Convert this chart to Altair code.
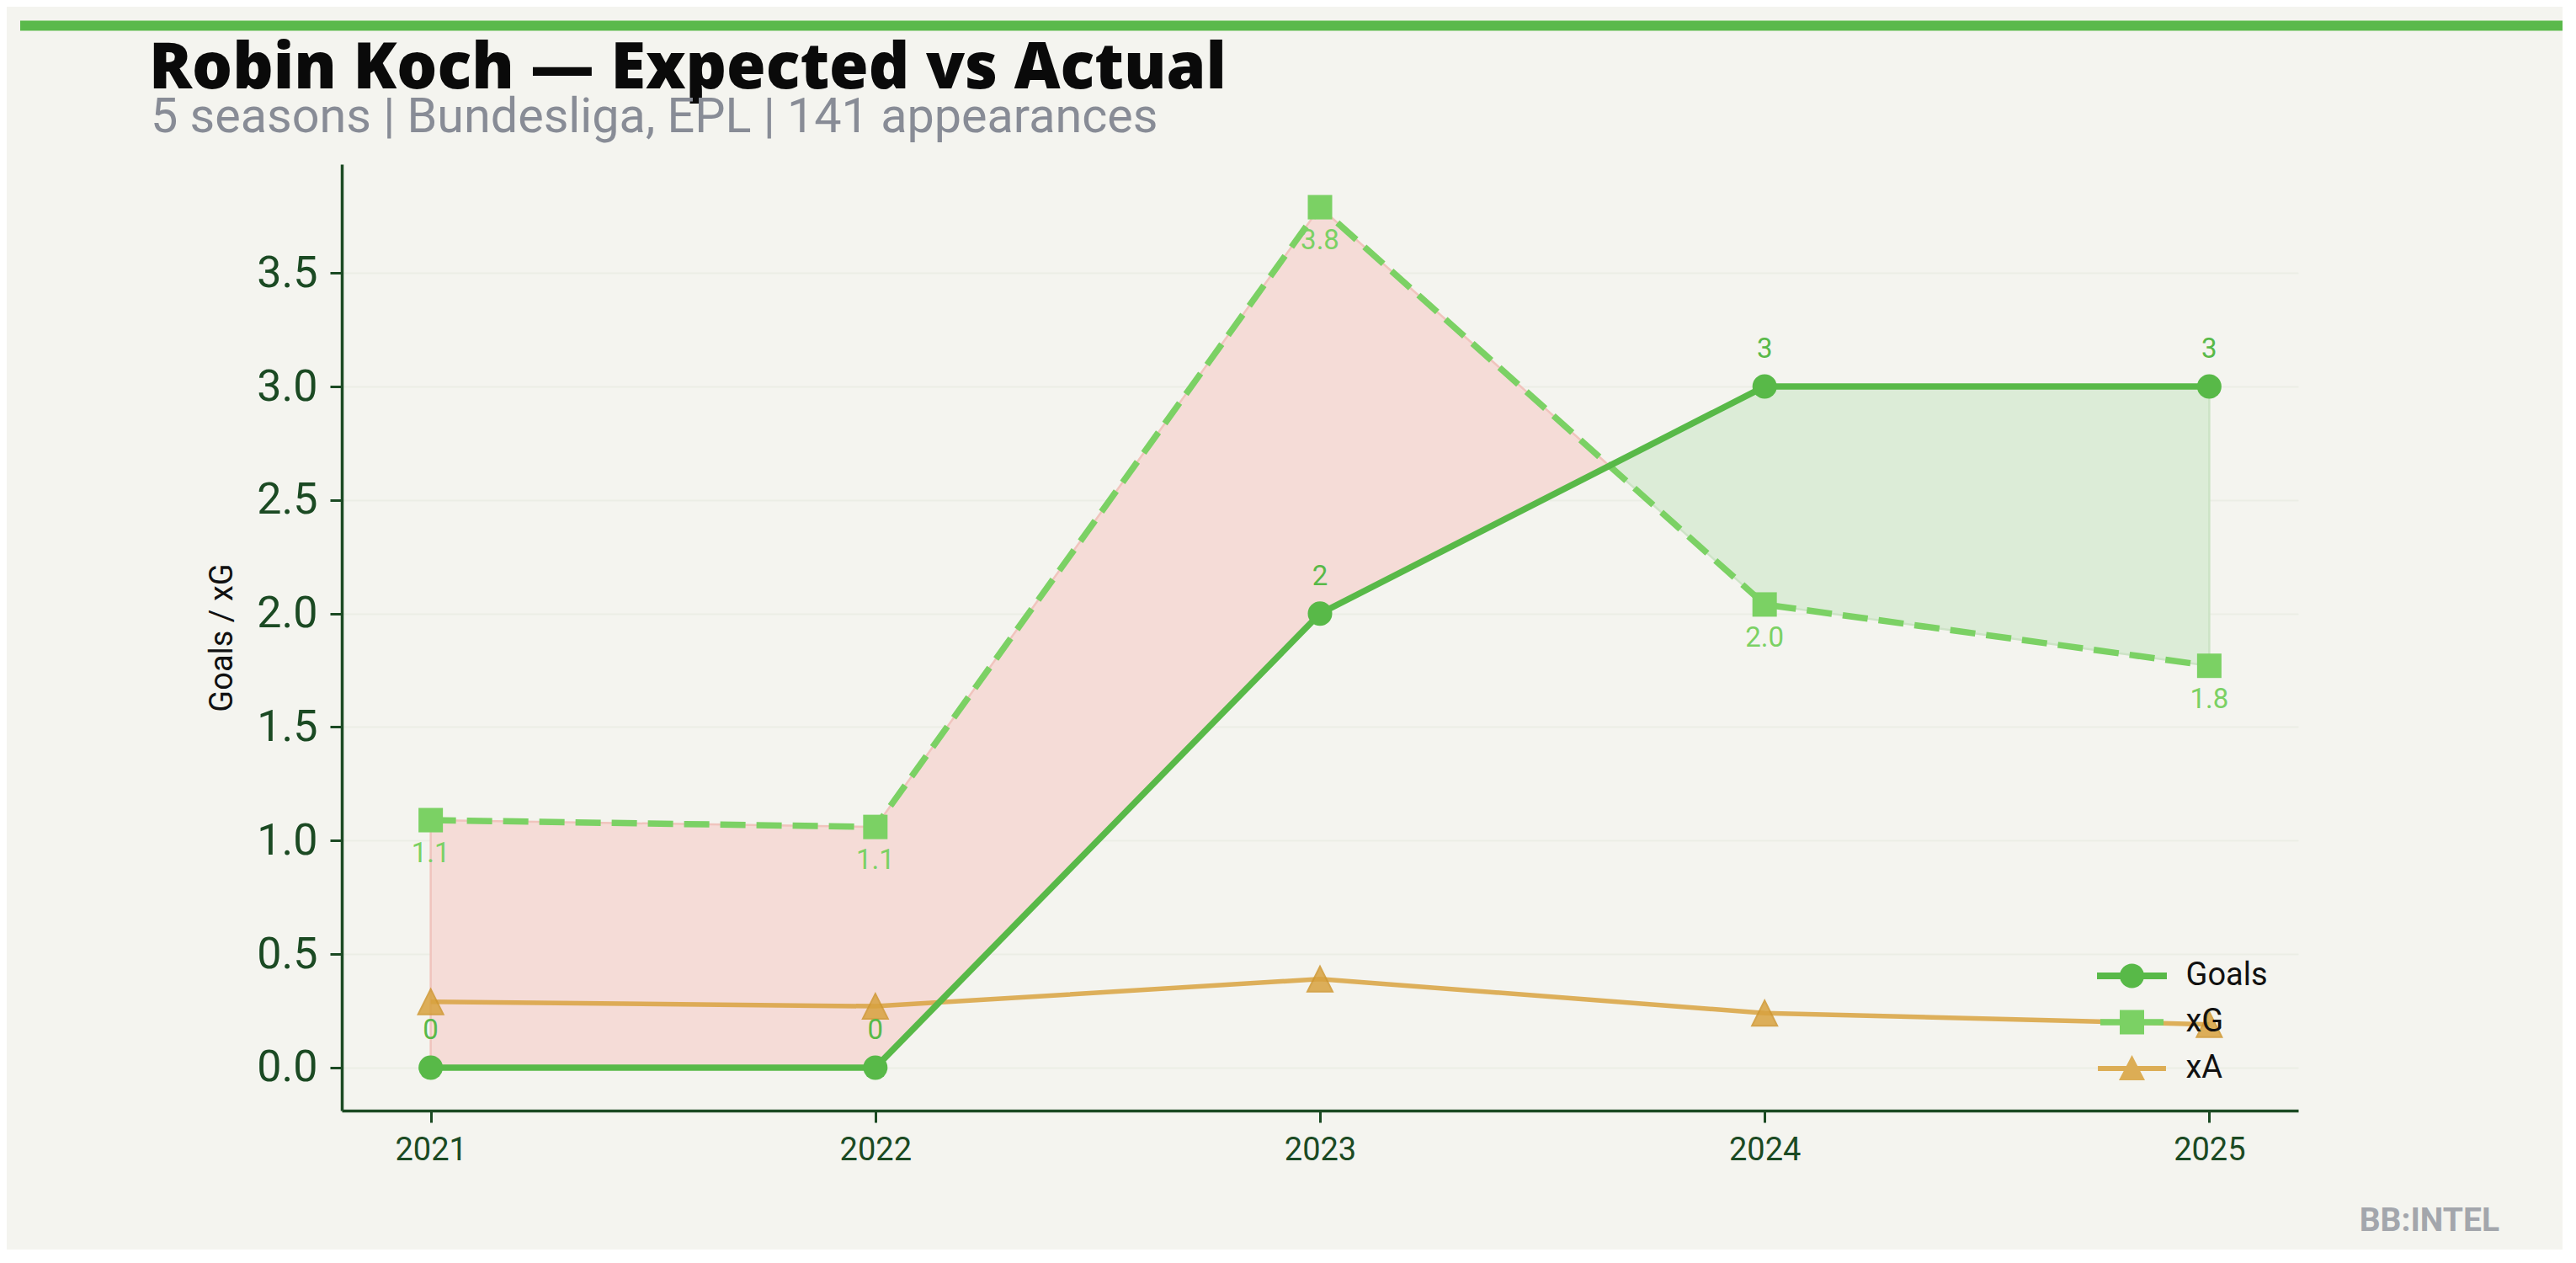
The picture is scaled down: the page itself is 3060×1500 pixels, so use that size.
import altair as alt
import pandas as pd

# ---------------- data ----------------
years = [2021, 2022, 2023, 2024, 2025]
goals = [0, 0, 2, 3, 3]
xg = [1.09, 1.06, 3.79, 2.04, 1.77]
xa = [0.29, 0.27, 0.39, 0.24, 0.19]
series_names = ["Goals", "xG", "xA"]
y_ticks = [0.0, 0.5, 1.0, 1.5, 2.0, 2.5, 3.0, 3.5]

TITLE = "Robin Koch — Expected vs Actual"
SUBTITLE = "5 seasons | Bundesliga, EPL | 141 appearances"
Y_TITLE = "Goals / xG"
WATERMARK = "BB:INTEL"

# ---------------- styles ----------------
BG = "#f4f4ef"
C_GOALS = "#58b948"
C_XG = "#7bd164"
C_XA = "#d8a23f"
AXIS_C = "#1b4a23"

# ---------------- tables ----------------
long = pd.DataFrame({
    "year": years * 3,
    "series": ["Goals"] * 5 + ["xG"] * 5 + ["xA"] * 5,
    "value": goals + xg + xa,
})
lab_goals = pd.DataFrame({"year": years, "value": goals, "label": [str(int(v)) for v in goals]})
lab_xg = pd.DataFrame({"year": years, "value": xg, "label": [f"{v:.1f}" for v in xg]})

# fill between goals and xG, split where the two cross
pts = []
for i in range(len(years)):
    pts.append((years[i], goals[i], xg[i]))
    if i < len(years) - 1:
        d0 = xg[i] - goals[i]
        d1 = xg[i + 1] - goals[i + 1]
        if d0 * d1 < 0:
            t = d0 / (d0 - d1)
            yr = years[i] + t * (years[i + 1] - years[i])
            gv = goals[i] + t * (goals[i + 1] - goals[i])
            pts.append((yr, gv, gv))
rows = []
region = 0
prev_sign = None
for (yr, g, x) in pts:
    d = x - g
    sign = 0 if abs(d) < 1e-12 else (1 if d > 0 else -1)
    if sign == 0:
        rows.append({"year": yr, "g": g, "x": x, "region": region, "kind": "over" if prev_sign != -1 else "under"})
        region += 1
        prev_sign = None
        rows.append({"year": yr, "g": g, "x": x, "region": region, "kind": "pending"})
        continue
    kind = "over" if sign > 0 else "under"
    rows.append({"year": yr, "g": g, "x": x, "region": region, "kind": kind})
    prev_sign = sign
fill = pd.DataFrame(rows)
for r in fill["region"].unique():
    kinds = [k for k in fill.loc[fill.region == r, "kind"] if k != "pending"]
    if kinds:
        fill.loc[(fill.region == r) & (fill.kind == "pending"), "kind"] = kinds[0]

all_vals = goals + xg + xa
ymin, ymax = min(all_vals), max(all_vals)
ypad = 0.05 * (ymax - ymin)
xpad = 0.05 * (max(years) - min(years))

xscale = alt.Scale(domain=[min(years) - xpad, max(years) + xpad], nice=False, zero=False)
yscale = alt.Scale(domain=[ymin - ypad, ymax + ypad], nice=False, zero=False)

xaxis = alt.Axis(values=years, format="d", title=None, grid=False,
                 labelFont="Roboto", labelFontSize=38, labelColor=AXIS_C, labelPadding=14,
                 tickSize=14, tickWidth=3, tickColor=AXIS_C,
                 domainColor=AXIS_C, domainWidth=3.5)
yaxis = alt.Axis(values=y_ticks, format=".1f", title=Y_TITLE,
                 titleFont="Roboto", titleFontSize=38, titleFontWeight="normal",
                 titleColor="#111111", titlePadding=21,
                 labelFont="Roboto", labelFontSize=52, labelColor=AXIS_C, labelPadding=15,
                 tickSize=14, tickWidth=3, tickColor=AXIS_C,
                 domainColor=AXIS_C, domainWidth=3.5,
                 grid=True, gridColor="#ebede5", gridWidth=2)

X = alt.X("year:Q", scale=xscale, axis=xaxis)


def Y(field):
    return alt.Y(f"{field}:Q", scale=yscale, axis=yaxis)


base = alt.Chart(long)

area_over = alt.Chart(fill).transform_filter(alt.datum.kind == "over").mark_area(
    fill="#f5dcd7", stroke="#f0c4bd", strokeWidth=2.5, opacity=1
).encode(x=X, y=Y("g"), y2="x:Q", detail="region:N")
area_under = alt.Chart(fill).transform_filter(alt.datum.kind == "under").mark_area(
    fill="#dcecd7", stroke="#cde3c6", strokeWidth=2.5, opacity=1
).encode(x=X, y=Y("g"), y2="x:Q", detail="region:N")

xa_line = base.transform_filter(alt.datum.series == "xA").mark_line(
    color=C_XA, strokeWidth=5.5, opacity=0.85).encode(x=X, y=Y("value"))
tri_path = "M0,-1L1,1L-1,1Z"
xa_pts = base.transform_filter(alt.datum.series == "xA").mark_point(
    shape=tri_path, filled=True, size=900, color=C_XA, opacity=0.85,
    stroke="#cf9730", strokeWidth=2).encode(x=X, y=Y("value"))

xg_line = base.transform_filter(alt.datum.series == "xG").mark_line(
    color=C_XG, strokeWidth=7.5, strokeDash=[30, 13], opacity=1).encode(x=X, y=Y("value"))
xg_pts = base.transform_filter(alt.datum.series == "xG").mark_point(
    shape="square", filled=True, size=841, color=C_XG, opacity=1).encode(x=X, y=Y("value"))

g_line = base.transform_filter(alt.datum.series == "Goals").mark_line(
    color=C_GOALS, strokeWidth=7.5, opacity=1).encode(x=X, y=Y("value"))
g_pts = base.transform_filter(alt.datum.series == "Goals").mark_point(
    shape="circle", filled=True, size=841, color=C_GOALS, opacity=1).encode(x=X, y=Y("value"))

g_lab = alt.Chart(lab_goals).mark_text(
    font="Roboto", fontSize=33, color=C_GOALS, baseline="alphabetic", align="center", dy=-34
).encode(x=X, y=Y("value"), text="label:N")
xg_lab = alt.Chart(lab_xg).mark_text(
    font="Roboto", fontSize=33, color=C_XG, baseline="alphabetic", align="center", dy=50
).encode(x=X, y=Y("value"), text="label:N")

# legend symbols: line + marker
legend_paths = [
    "M-2.86,-0.276H-0.96V0.276H-2.86Z M0.96,-0.276H2.86V0.276H0.96Z M1,0A1,1,0,1,1,-1,0A1,1,0,1,1,1,0Z",
    "M-2.59,-0.26H-1V0.26H-2.59Z M1,-0.26H2.59V0.26H1Z M-1,-1H1V1H-1Z",
    "M-2.79,-0.21H2.79V0.21H-2.79Z M0,-1.1L1.07,0.97L-1.07,0.97Z",
]
legend_colors = [C_GOALS, C_XG, "#dcad55"]
leg = alt.Legend(title=None, orient="none", legendX=2107.5, legendY=945, padding=0,
                 symbolSize=841, symbolOpacity=1, symbolStrokeWidth=0,
                 labelFont="Roboto", labelFontSize=38, labelColor="#111111",
                 labelOffset=45, rowPadding=17)
legend_layer = base.mark_point(filled=True, opacity=0).encode(
    x=X, y=Y("value"),
    color=alt.Color("series:N", scale=alt.Scale(domain=series_names, range=legend_colors), legend=leg),
    shape=alt.Shape("series:N", scale=alt.Scale(domain=series_names, range=legend_paths), legend=leg),
)

one = pd.DataFrame({"t": [TITLE], "s": [SUBTITLE], "w": [WATERMARK]})
bar = alt.Chart(one).mark_rule(color="#5ab94b", strokeWidth=12).encode(
    x=alt.value(-382), x2=alt.value(2700), y=alt.value(-164.5))
title_txt = alt.Chart(one).mark_text(
    align="left", baseline="alphabetic", font="Open Sans", fontSize=75.5, fontWeight=800, color="#0a0a0a"
).encode(x=alt.value(-229), y=alt.value(-90), text="t:N")
sub_txt = alt.Chart(one).mark_text(
    align="left", baseline="alphabetic", font="Roboto", fontSize=57.5, color="#888c96"
).encode(x=alt.value(-227), y=alt.value(-38), text="s:N")
wm_txt = alt.Chart(one).mark_text(
    align="right", baseline="alphabetic", font="Roboto", fontSize=39, fontWeight="bold", color="#a3a6ac"
).encode(x=alt.value(2563), y=alt.value(1267), text="w:N")

chart = alt.layer(
    area_over, area_under,
    xa_line, xa_pts,
    xg_line, xg_pts,
    g_line, g_pts,
    g_lab, xg_lab,
    legend_layer,
    bar, title_txt, sub_txt, wm_txt,
).properties(
    width=2324, height=1124,
    background=BG,
    padding={"left": 398, "top": 187, "right": 314, "bottom": 165},
    autosize=alt.AutoSizeParams(type="none"),
).configure_view(stroke=None)

chart.save("out.html", embed_options={"renderer": "svg", "actions": False})
